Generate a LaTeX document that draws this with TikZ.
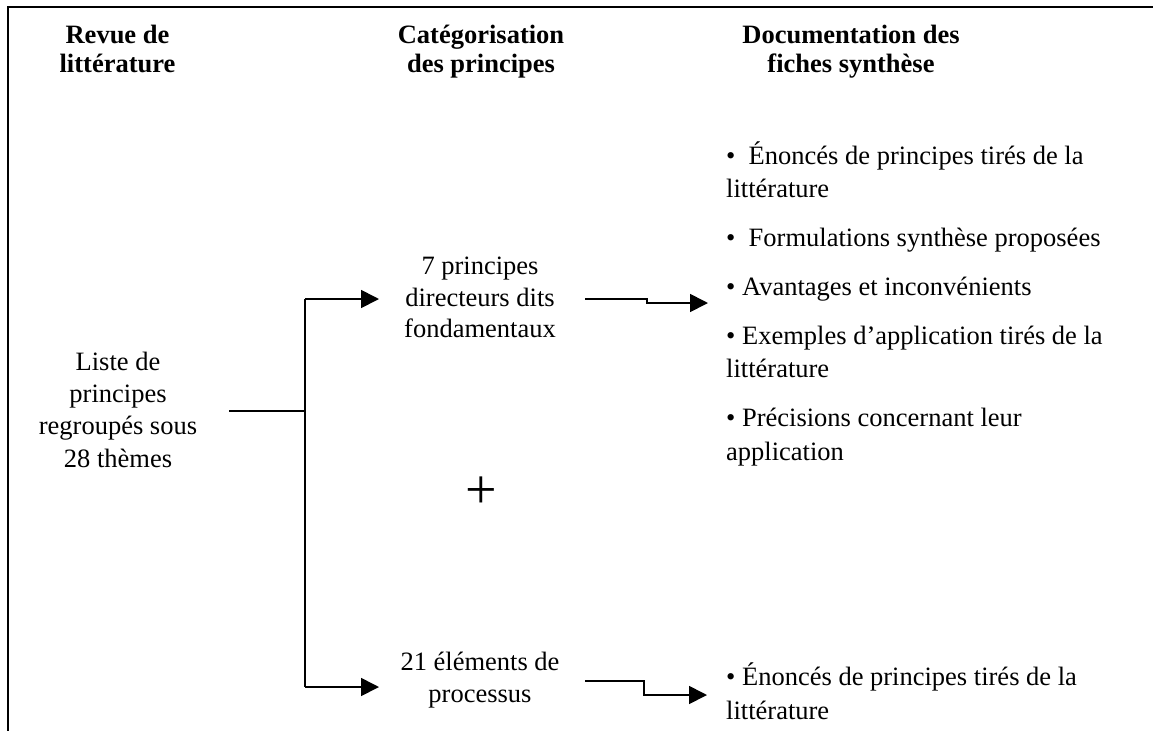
\documentclass[tikz,border=0pt]{standalone}
\usepackage{fontspec}
\setmainfont{Liberation Serif}
\usetikzlibrary{arrows.meta}
\begin{document}
\begin{tikzpicture}[x=1pt,y=-1pt,
  hdr/.style={font=\fontsize{26.5}{29.5}\selectfont\bfseries, align=center, inner sep=0pt, anchor=base},
  body/.style={font=\fontsize{26.5}{31.5}\selectfont, align=center, inner sep=0pt, anchor=base},
  body4/.style={body, font=\fontsize{26.5}{32.3}\selectfont},
  item/.style={font=\fontsize{26.5}{33.5}\selectfont, align=left, inner sep=0pt, anchor=base west},
  conn/.style={line width=1.7pt},
  arr/.style={-{Triangle[length=18pt,width=18pt]}},
  frame/.style={line width=2.2pt}]
\useasboundingbox (0,0) rectangle (1153,731);
\draw[frame] (1153,7) -- (8,7) -- (8,731);

% column headers (anchor = baseline of last line)
\node[hdr] (h1) at (117.5,72.5) {Revue de\\littérature};
\node[hdr] (h2) at (481,72.5) {Catégorisation\\des principes};
\node[hdr] (h3) at (851,72.5) {Documentation des\\fiches synthèse};

% body texts
\node[body4] (liste) at (118,467) {Liste de\\principes\\regroupés sous\\28 thèmes};
\node[body] (sept) at (480,337.5) {7 principes\\directeurs dits\\fondamentaux};
\node[body] (vingt) at (480,702) {21 éléments de\\processus};
\node[font=\fontsize{56}{56}\selectfont, inner sep=0pt] (plus) at (481,493) {+};

% right column items
\node[item] (f1) at (726,197.5) {•~ Énoncés de principes tirés de la\\littérature};
\node[item] (f2) at (726,246.5) {•~ Formulations synthèse proposées};
\node[item] (f3) at (726,295) {• Avantages et inconvénients};
\node[item] (f4) at (726,377.5) {• Exemples d’application tirés de la\\littérature};
\node[item] (f5) at (726,460) {• Précisions concernant leur\\application};
\node[item] (g1) at (726,719) {• Énoncés de principes tirés de la\\littérature};

% connector points
\coordinate (lsrc) at (229,411);
\coordinate (jL) at (305,411);
\coordinate (jT) at (305,299);
\coordinate (jB) at (305,687);
\coordinate (tS) at (379,299);
\coordinate (tV) at (379,687);
\coordinate (rS) at (585,299);
\coordinate (rS2) at (647,299);
\coordinate (rT) at (708,303);
\coordinate (rV) at (585,681);
\coordinate (rV2) at (644,681);
\coordinate (rVt) at (707,695);

\draw[conn] (lsrc) -- (jL);
\draw[conn] (jT) -- (jB);
\draw[conn,arr] (jT) -- (tS);
\draw[conn,arr] (jB) -- (tV);
\draw[conn,arr] (rS) -- (rS2) |- (rT);
\draw[conn,arr] (rV) -- (rV2) |- (rVt);
\end{tikzpicture}
\end{document}
